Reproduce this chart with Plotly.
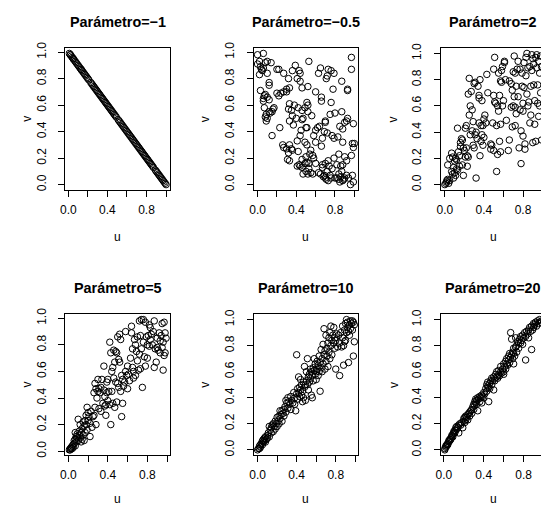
import plotly.graph_objects as go

# ---- simulated copula samples, one (u, v) pair of lists per parameter value ----
titles = ["Parámetro=−1", "Parámetro=−0.5", "Parámetro=2",
          "Parámetro=5", "Parámetro=10", "Parámetro=20"]

u1 = [0.01, 0.02, 0.02, 0.03, 0.04, 0.05, 0.05, 0.06, 0.07, 0.08, 0.09, 0.10, 0.11, 0.12,
      0.13, 0.13, 0.14, 0.15, 0.16, 0.17, 0.18, 0.19, 0.20, 0.21, 0.23, 0.24, 0.25, 0.26,
      0.27, 0.28, 0.29, 0.30, 0.31, 0.32, 0.33, 0.34, 0.35, 0.36, 0.37, 0.38, 0.39, 0.40,
      0.41, 0.42, 0.43, 0.44, 0.45, 0.46, 0.47, 0.48, 0.49, 0.51, 0.52, 0.53, 0.54, 0.55,
      0.56, 0.57, 0.58, 0.59, 0.60, 0.61, 0.62, 0.63, 0.64, 0.65, 0.66, 0.67, 0.68, 0.69,
      0.70, 0.71, 0.72, 0.73, 0.74, 0.75, 0.76, 0.77, 0.78, 0.79, 0.80, 0.81, 0.82, 0.83,
      0.84, 0.85, 0.86, 0.87, 0.89, 0.90, 0.91, 0.92, 0.93, 0.94, 0.95, 0.96, 0.97, 0.98,
      0.99, 1.00]
v1 = [0.99, 0.98, 0.98, 0.97, 0.96, 0.95, 0.95, 0.94, 0.93, 0.92, 0.91, 0.90, 0.89, 0.88,
      0.87, 0.87, 0.86, 0.85, 0.84, 0.83, 0.82, 0.81, 0.80, 0.79, 0.77, 0.76, 0.75, 0.74,
      0.73, 0.72, 0.71, 0.70, 0.69, 0.68, 0.67, 0.66, 0.65, 0.64, 0.63, 0.62, 0.61, 0.60,
      0.59, 0.58, 0.57, 0.56, 0.55, 0.54, 0.53, 0.52, 0.51, 0.49, 0.48, 0.47, 0.46, 0.45,
      0.44, 0.43, 0.42, 0.41, 0.40, 0.39, 0.38, 0.37, 0.36, 0.35, 0.34, 0.33, 0.32, 0.31,
      0.30, 0.29, 0.28, 0.27, 0.26, 0.25, 0.24, 0.23, 0.22, 0.21, 0.20, 0.19, 0.18, 0.17,
      0.16, 0.15, 0.14, 0.13, 0.11, 0.10, 0.09, 0.08, 0.07, 0.06, 0.05, 0.04, 0.03, 0.02,
      0.01, 0.00]

pts2 = [(0.0, 0.98), (0.06, 0.99), (0.02, 0.93), (0.0, 0.91), (0.03, 0.89), (0.04, 0.87),
        (0.06, 0.88), (0.05, 0.86), (0.02, 0.83), (0.1, 0.93), (0.1, 0.84), (0.14, 0.92),
        (0.08, 0.92), (0.03, 0.71), (0.12, 0.77), (0.12, 0.75), (0.07, 0.67), (0.06, 0.65),
        (0.08, 0.68), (0.1, 0.66), (0.06, 0.63), (0.12, 0.64), (0.07, 0.58), (0.09, 0.53),
        (0.1, 0.5), (0.08, 0.51), (0.09, 0.48), (0.13, 0.54), (0.15, 0.55), (0.16, 0.57),
        (0.17, 0.58), (0.12, 0.55), (0.15, 0.37), (0.2, 0.87), (0.22, 0.87), (0.2, 0.69),
        (0.22, 0.67), (0.24, 0.69), (0.23, 0.43), (0.27, 0.84), (0.27, 0.7), (0.3, 0.7),
        (0.3, 0.72), (0.33, 0.73), (0.32, 0.8), (0.36, 0.86), (0.39, 0.9), (0.43, 0.86),
        (0.44, 0.84), (0.41, 0.8), (0.44, 0.78), (0.46, 0.73), (0.53, 0.93), (0.52, 0.74),
        (0.38, 0.6), (0.33, 0.61), (0.32, 0.57), (0.35, 0.56), (0.36, 0.52), (0.33, 0.48),
        (0.37, 0.45), (0.4, 0.5), (0.42, 0.58), (0.46, 0.56), (0.49, 0.58), (0.51, 0.62),
        (0.52, 0.6), (0.52, 0.55), (0.47, 0.5), (0.46, 0.49), (0.45, 0.41), (0.5, 0.43),
        (0.51, 0.43), (0.56, 0.52), (0.6, 0.7), (0.63, 0.84), (0.65, 0.88), (0.66, 0.66),
        (0.66, 0.63), (0.7, 0.48), (0.7, 0.47), (0.71, 0.8), (0.72, 0.82), (0.73, 0.87),
        (0.76, 0.86), (0.78, 0.72), (0.79, 0.84), (0.76, 0.62), (0.75, 0.53), (0.8, 0.54),
        (0.87, 0.55), (0.87, 0.78), (0.93, 0.72), (0.93, 0.71), (0.97, 0.96), (0.97, 0.87),
        (0.99, 0.46), (0.93, 0.5), (0.92, 0.48), (0.9, 0.47), (0.85, 0.44), (0.88, 0.42),
        (0.6, 0.41), (0.62, 0.43), (0.64, 0.44), (0.58, 0.37), (0.6, 0.32), (0.66, 0.29),
        (0.67, 0.35), (0.69, 0.4), (0.72, 0.39), (0.77, 0.37), (0.79, 0.35), (0.83, 0.36),
        (0.88, 0.32), (0.98, 0.31), (1.0, 0.31), (0.99, 0.28), (0.97, 0.22), (0.9, 0.21),
        (0.92, 0.18), (0.88, 0.15), (0.26, 0.3), (0.27, 0.28), (0.3, 0.27), (0.33, 0.3),
        (0.35, 0.27), (0.36, 0.26), (0.32, 0.24), (0.31, 0.19), (0.33, 0.18), (0.42, 0.25),
        (0.41, 0.33), (0.44, 0.37), (0.49, 0.32), (0.51, 0.3), (0.43, 0.15), (0.44, 0.14),
        (0.46, 0.13), (0.41, 0.14), (0.46, 0.19), (0.49, 0.16), (0.5, 0.21), (0.51, 0.17),
        (0.53, 0.16), (0.54, 0.23), (0.55, 0.26), (0.57, 0.22), (0.58, 0.2), (0.6, 0.16),
        (0.5, 0.1), (0.52, 0.08), (0.53, 0.12), (0.55, 0.09), (0.57, 0.08), (0.63, 0.09),
        (0.65, 0.08), (0.67, 0.15), (0.67, 0.13), (0.68, 0.06), (0.7, 0.05), (0.7, 0.16),
        (0.72, 0.1), (0.73, 0.18), (0.74, 0.14), (0.75, 0.07), (0.76, 0.05), (0.73, 0.03),
        (0.77, 0.12), (0.79, 0.2), (0.8, 0.05), (0.82, 0.15), (0.84, 0.08), (0.84, 0.04),
        (0.85, 0.02), (0.86, 0.06), (0.87, 0.1), (0.88, 0.03), (0.89, 0.04), (0.9, 0.05),
        (0.92, 0.07), (0.94, 0.05), (0.96, 0.0), (0.98, 0.07), (0.99, 0.02), (0.69, 0.07),
        (0.71, 0.04), (0.84, 0.23), (0.86, 0.14), (0.82, 0.05), (0.47, 0.08)]

pts3 = [(0.0, 0.0), (0.01, 0.01), (0.02, 0.02), (0.03, 0.04), (0.02, 0.03), (0.04, 0.01),
        (0.05, 0.03), (0.03, 0.15), (0.05, 0.2), (0.07, 0.1), (0.08, 0.08), (0.07, 0.24),
        (0.08, 0.21), (0.09, 0.13), (0.09, 0.05), (0.1, 0.09), (0.1, 0.18), (0.11, 0.2),
        (0.11, 0.07), (0.12, 0.12), (0.12, 0.19), (0.13, 0.11), (0.13, 0.43), (0.14, 0.25),
        (0.15, 0.14), (0.15, 0.22), (0.16, 0.29), (0.16, 0.32), (0.17, 0.35), (0.18, 0.34),
        (0.18, 0.15), (0.19, 0.28), (0.19, 0.07), (0.2, 0.26), (0.21, 0.43), (0.21, 0.21),
        (0.22, 0.45), (0.22, 0.28), (0.23, 0.22), (0.23, 0.14), (0.24, 0.21), (0.24, 0.69),
        (0.25, 0.81), (0.25, 0.53), (0.26, 0.38), (0.26, 0.6), (0.27, 0.71), (0.28, 0.57),
        (0.28, 0.41), (0.29, 0.48), (0.29, 0.3), (0.3, 0.28), (0.3, 0.77), (0.31, 0.78),
        (0.31, 0.38), (0.32, 0.05), (0.32, 0.4), (0.33, 0.35), (0.34, 0.75), (0.35, 0.68),
        (0.35, 0.66), (0.35, 0.47), (0.36, 0.8), (0.36, 0.22), (0.37, 0.45), (0.37, 0.33),
        (0.38, 0.38), (0.38, 0.64), (0.39, 0.45), (0.39, 0.3), (0.4, 0.36), (0.4, 0.5),
        (0.41, 0.53), (0.42, 0.47), (0.43, 0.84), (0.44, 0.7), (0.47, 0.27), (0.47, 0.31),
        (0.48, 0.3), (0.49, 0.47), (0.5, 0.68), (0.5, 0.26), (0.5, 0.88), (0.51, 0.97),
        (0.51, 0.63), (0.52, 0.62), (0.53, 0.45), (0.53, 0.1), (0.54, 0.23), (0.54, 0.6),
        (0.55, 0.56), (0.55, 0.85), (0.56, 0.68), (0.56, 0.33), (0.57, 0.79), (0.57, 0.46),
        (0.57, 0.25), (0.58, 0.87), (0.58, 0.78), (0.59, 0.6), (0.59, 0.9), (0.6, 0.64),
        (0.61, 0.94), (0.61, 0.93), (0.62, 0.8), (0.63, 0.49), (0.65, 0.26), (0.66, 0.34),
        (0.66, 0.79), (0.68, 0.59), (0.68, 0.77), (0.69, 0.72), (0.69, 0.44), (0.7, 0.6),
        (0.7, 0.86), (0.71, 0.98), (0.71, 0.67), (0.72, 0.85), (0.72, 0.45), (0.72, 0.59),
        (0.73, 0.54), (0.73, 0.75), (0.74, 0.88), (0.75, 0.94), (0.75, 0.67), (0.76, 0.28),
        (0.77, 0.88), (0.77, 0.57), (0.78, 0.16), (0.78, 0.41), (0.79, 0.85), (0.79, 0.75),
        (0.8, 0.37), (0.8, 0.56), (0.8, 0.62), (0.81, 0.93), (0.81, 0.74), (0.82, 0.31),
        (0.82, 0.27), (0.83, 0.97), (0.83, 0.83), (0.84, 1.0), (0.84, 0.69), (0.85, 0.89),
        (0.85, 0.6), (0.86, 0.63), (0.87, 0.9), (0.87, 0.47), (0.88, 0.53), (0.88, 0.75),
        (0.89, 0.99), (0.89, 0.87), (0.9, 0.96), (0.9, 0.32), (0.91, 0.92), (0.91, 0.76),
        (0.92, 0.46), (0.92, 0.64), (0.93, 0.97), (0.93, 0.33), (0.94, 0.99), (0.94, 0.89),
        (0.95, 0.62), (0.95, 0.76), (0.96, 0.52), (0.96, 0.94), (0.97, 0.85), (0.97, 0.6),
        (0.98, 0.98), (0.98, 0.7), (0.99, 0.9), (0.99, 0.34)]

pts4 = [(0.01, 0.01), (0.02, 0.02), (0.02, 0.01), (0.03, 0.03), (0.03, 0.02), (0.04, 0.04),
        (0.04, 0.02), (0.05, 0.05), (0.05, 0.03), (0.06, 0.08), (0.06, 0.06), (0.07, 0.04),
        (0.07, 0.09), (0.07, 0.14), (0.08, 0.11), (0.08, 0.07), (0.09, 0.1), (0.09, 0.13),
        (0.1, 0.24), (0.1, 0.08), (0.11, 0.15), (0.11, 0.12), (0.12, 0.2), (0.12, 0.1),
        (0.13, 0.14), (0.13, 0.07), (0.14, 0.17), (0.14, 0.09), (0.15, 0.12), (0.15, 0.22),
        (0.16, 0.08), (0.16, 0.19), (0.17, 0.23), (0.17, 0.14), (0.18, 0.2), (0.18, 0.27),
        (0.19, 0.16), (0.19, 0.33), (0.2, 0.23), (0.2, 0.29), (0.21, 0.26), (0.22, 0.11),
        (0.22, 0.21), (0.23, 0.3), (0.24, 0.18), (0.25, 0.26), (0.26, 0.27), (0.26, 0.44),
        (0.27, 0.51), (0.27, 0.33), (0.28, 0.2), (0.28, 0.47), (0.29, 0.4), (0.3, 0.45),
        (0.3, 0.54), (0.31, 0.47), (0.31, 0.32), (0.32, 0.44), (0.33, 0.48), (0.33, 0.3),
        (0.34, 0.54), (0.35, 0.36), (0.36, 0.46), (0.36, 0.64), (0.37, 0.34), (0.37, 0.41),
        (0.38, 0.35), (0.38, 0.27), (0.39, 0.52), (0.39, 0.44), (0.4, 0.54), (0.4, 0.38),
        (0.41, 0.45), (0.42, 0.82), (0.42, 0.35), (0.43, 0.2), (0.43, 0.74), (0.44, 0.6),
        (0.44, 0.45), (0.45, 0.36), (0.45, 0.63), (0.46, 0.55), (0.46, 0.76), (0.47, 0.67),
        (0.47, 0.33), (0.48, 0.75), (0.48, 0.52), (0.49, 0.37), (0.49, 0.74), (0.5, 0.86),
        (0.5, 0.51), (0.51, 0.69), (0.51, 0.48), (0.52, 0.88), (0.52, 0.67), (0.53, 0.84),
        (0.53, 0.45), (0.54, 0.57), (0.54, 0.26), (0.55, 0.54), (0.55, 0.36), (0.56, 0.49),
        (0.57, 0.52), (0.58, 0.9), (0.58, 0.6), (0.59, 0.57), (0.6, 0.64), (0.6, 0.47),
        (0.61, 0.58), (0.62, 0.53), (0.63, 0.7), (0.64, 0.94), (0.64, 0.89), (0.65, 0.77),
        (0.65, 0.63), (0.66, 0.6), (0.66, 0.55), (0.67, 0.84), (0.68, 0.8), (0.68, 0.57),
        (0.69, 0.75), (0.7, 0.86), (0.7, 0.68), (0.71, 0.61), (0.72, 0.98), (0.72, 0.73),
        (0.73, 0.87), (0.73, 0.62), (0.74, 0.99), (0.74, 0.77), (0.75, 0.48), (0.76, 0.99),
        (0.76, 0.82), (0.77, 0.71), (0.78, 0.97), (0.78, 0.64), (0.79, 0.86), (0.8, 0.8),
        (0.8, 0.7), (0.81, 0.87), (0.82, 0.95), (0.82, 0.79), (0.83, 0.93), (0.83, 0.84),
        (0.84, 0.88), (0.85, 0.8), (0.86, 0.9), (0.87, 0.63), (0.87, 0.98), (0.88, 0.77),
        (0.89, 0.67), (0.9, 0.85), (0.91, 0.76), (0.92, 0.89), (0.93, 0.74), (0.94, 0.87),
        (0.95, 0.96), (0.95, 0.78), (0.96, 0.61), (0.96, 0.82), (0.97, 0.97), (0.97, 0.72),
        (0.98, 0.89), (0.98, 0.74), (0.99, 0.85), (0.93, 0.83), (0.9, 0.78)]

pts5 = [(0.0, 0.0), (0.01, 0.01), (0.02, 0.03), (0.02, 0.01), (0.03, 0.04), (0.03, 0.02),
        (0.04, 0.05), (0.05, 0.04), (0.05, 0.07), (0.06, 0.06), (0.06, 0.08), (0.07, 0.07),
        (0.07, 0.09), (0.08, 0.06), (0.08, 0.1), (0.09, 0.08), (0.1, 0.11), (0.1, 0.09),
        (0.11, 0.13), (0.12, 0.1), (0.12, 0.18), (0.13, 0.15), (0.14, 0.13), (0.14, 0.17),
        (0.15, 0.19), (0.16, 0.14), (0.16, 0.2), (0.17, 0.18), (0.18, 0.16), (0.18, 0.22),
        (0.19, 0.2), (0.2, 0.25), (0.2, 0.18), (0.21, 0.22), (0.22, 0.26), (0.22, 0.2),
        (0.23, 0.3), (0.23, 0.24), (0.24, 0.27), (0.25, 0.3), (0.25, 0.22), (0.26, 0.28),
        (0.27, 0.26), (0.27, 0.31), (0.28, 0.33), (0.29, 0.38), (0.29, 0.29), (0.3, 0.36),
        (0.31, 0.32), (0.31, 0.4), (0.32, 0.37), (0.33, 0.35), (0.34, 0.31), (0.34, 0.41),
        (0.35, 0.38), (0.36, 0.36), (0.37, 0.44), (0.38, 0.4), (0.38, 0.35), (0.39, 0.3),
        (0.4, 0.43), (0.4, 0.73), (0.41, 0.47), (0.41, 0.39), (0.42, 0.56), (0.42, 0.44),
        (0.43, 0.48), (0.43, 0.41), (0.44, 0.54), (0.44, 0.46), (0.45, 0.42), (0.45, 0.5),
        (0.46, 0.37), (0.46, 0.45), (0.47, 0.52), (0.47, 0.4), (0.48, 0.64), (0.48, 0.48),
        (0.49, 0.5), (0.49, 0.38), (0.5, 0.6), (0.5, 0.53), (0.51, 0.7), (0.51, 0.5),
        (0.52, 0.56), (0.52, 0.46), (0.53, 0.58), (0.53, 0.52), (0.54, 0.62), (0.54, 0.55),
        (0.55, 0.42), (0.55, 0.6), (0.56, 0.57), (0.56, 0.4), (0.57, 0.63), (0.57, 0.53),
        (0.58, 0.7), (0.58, 0.61), (0.59, 0.58), (0.59, 0.66), (0.6, 0.6), (0.6, 0.54),
        (0.61, 0.68), (0.61, 0.62), (0.62, 0.65), (0.62, 0.57), (0.63, 0.72), (0.63, 0.6),
        (0.64, 0.67), (0.64, 0.45), (0.65, 0.77), (0.65, 0.63), (0.66, 0.7), (0.66, 0.6),
        (0.67, 0.81), (0.67, 0.66), (0.68, 0.73), (0.68, 0.93), (0.69, 0.76), (0.69, 0.62),
        (0.7, 0.68), (0.7, 0.88), (0.71, 0.78), (0.71, 0.72), (0.72, 0.82), (0.72, 0.64),
        (0.73, 0.86), (0.73, 0.75), (0.74, 0.9), (0.74, 0.7), (0.75, 0.8), (0.75, 0.95),
        (0.76, 0.84), (0.76, 0.73), (0.77, 0.88), (0.78, 0.82), (0.78, 0.94), (0.79, 0.86),
        (0.79, 0.78), (0.8, 0.84), (0.81, 0.89), (0.82, 0.79), (0.83, 0.88), (0.84, 0.57),
        (0.84, 0.82), (0.85, 0.9), (0.86, 0.79), (0.87, 0.95), (0.87, 0.86), (0.88, 0.65),
        (0.88, 0.8), (0.89, 0.92), (0.89, 0.83), (0.9, 0.97), (0.9, 0.84), (0.91, 1.0),
        (0.91, 0.9), (0.92, 0.94), (0.92, 0.98), (0.93, 0.67), (0.93, 0.91), (0.94, 0.96),
        (0.94, 0.88), (0.95, 0.99), (0.95, 0.93), (0.96, 0.97), (0.97, 0.92), (0.97, 0.99),
        (0.98, 0.72), (0.98, 0.98), (0.99, 0.96), (0.99, 0.83), (0.8, 0.62)]

pts6 = [(0.01, 0.0), (0.01, 0.01), (0.02, 0.02), (0.02, 0.03), (0.03, 0.03), (0.03, 0.04),
        (0.04, 0.05), (0.04, 0.04), (0.05, 0.06), (0.05, 0.07), (0.06, 0.07), (0.06, 0.08),
        (0.07, 0.09), (0.07, 0.08), (0.08, 0.1), (0.08, 0.11), (0.09, 0.12), (0.09, 0.1),
        (0.1, 0.13), (0.1, 0.14), (0.11, 0.15), (0.11, 0.13), (0.12, 0.17), (0.12, 0.15),
        (0.13, 0.16), (0.13, 0.18), (0.14, 0.17), (0.15, 0.19), (0.15, 0.13), (0.16, 0.2),
        (0.17, 0.19), (0.18, 0.21), (0.19, 0.17), (0.2, 0.22), (0.2, 0.24), (0.21, 0.21),
        (0.21, 0.25), (0.22, 0.23), (0.22, 0.26), (0.23, 0.25), (0.24, 0.27), (0.24, 0.23),
        (0.25, 0.28), (0.26, 0.29), (0.26, 0.26), (0.27, 0.3), (0.28, 0.31), (0.28, 0.28),
        (0.29, 0.33), (0.3, 0.35), (0.3, 0.31), (0.31, 0.34), (0.31, 0.37), (0.32, 0.36),
        (0.32, 0.39), (0.33, 0.38), (0.33, 0.35), (0.34, 0.4), (0.34, 0.3), (0.35, 0.39),
        (0.36, 0.41), (0.36, 0.37), (0.37, 0.4), (0.38, 0.42), (0.39, 0.41), (0.4, 0.44),
        (0.4, 0.4), (0.41, 0.43), (0.42, 0.47), (0.43, 0.5), (0.43, 0.45), (0.44, 0.49),
        (0.44, 0.52), (0.45, 0.48), (0.45, 0.37), (0.46, 0.51), (0.46, 0.47), (0.47, 0.53),
        (0.48, 0.5), (0.48, 0.55), (0.49, 0.53), (0.5, 0.56), (0.5, 0.46), (0.51, 0.55),
        (0.51, 0.53), (0.52, 0.58), (0.53, 0.56), (0.53, 0.6), (0.54, 0.55), (0.55, 0.58),
        (0.55, 0.61), (0.56, 0.57), (0.57, 0.6), (0.57, 0.64), (0.58, 0.59), (0.59, 0.62),
        (0.6, 0.66), (0.6, 0.6), (0.61, 0.64), (0.62, 0.68), (0.62, 0.62), (0.63, 0.66),
        (0.63, 0.7), (0.64, 0.65), (0.65, 0.72), (0.65, 0.69), (0.66, 0.74), (0.66, 0.67),
        (0.67, 0.9), (0.67, 0.71), (0.68, 0.73), (0.68, 0.85), (0.69, 0.75), (0.69, 0.7),
        (0.7, 0.78), (0.7, 0.74), (0.71, 0.72), (0.72, 0.79), (0.72, 0.86), (0.73, 0.8),
        (0.73, 0.75), (0.74, 0.83), (0.75, 0.82), (0.75, 0.78), (0.76, 0.85), (0.77, 0.82),
        (0.77, 0.87), (0.78, 0.84), (0.79, 0.88), (0.79, 0.81), (0.8, 0.86), (0.81, 0.9),
        (0.82, 0.69), (0.82, 0.87), (0.83, 0.91), (0.84, 0.89), (0.85, 0.92), (0.85, 0.86),
        (0.86, 0.94), (0.87, 0.91), (0.88, 0.95), (0.88, 0.77), (0.89, 0.92), (0.9, 0.97),
        (0.9, 0.94), (0.91, 0.96), (0.92, 0.98), (0.93, 0.95), (0.94, 0.99), (0.95, 0.97),
        (0.96, 1.0), (0.97, 0.98), (0.98, 0.99), (0.6, 0.58), (0.7, 0.66), (0.38, 0.36)]

tick_vals = [0.0, 0.2, 0.4, 0.6, 0.8, 1.0]
x_tick_text = ["0.0", "", "0.4", "", "0.8", ""]
y_tick_text = ["0.0", "0.2", "0.4", "0.6", "0.8", "1.0"]

samples = [(u1, v1)] + [([p[0] for p in s], [p[1] for p in s])
                        for s in (pts2, pts3, pts4, pts5, pts6)]

# ---- page geometry (pixels) ----
W, H = 541, 512
BOX_W = 105.5
col_left = [61.0, 251.0, 440.0]
row_box = [(42.0, 186.5), (313.5, 457.0)]      # (top, bottom) of each plot box
title_y = [15.0, 287.0]
ulab_y = [235.0, 502.0]
vlab_x = [22.0, 202.0, 392.0]

FONT = "Liberation Sans, Arial, sans-serif"


def r_range(vals):
    lo, hi = min(vals), max(vals)
    pad = 0.04 * (hi - lo)
    return [lo - pad, hi + pad]


fig = go.Figure()
annotations = []
for i, (u, v) in enumerate(samples):
    r, c = divmod(i, 3)
    n = i + 1
    xname = "x" if n == 1 else f"x{n}"
    yname = "y" if n == 1 else f"y{n}"
    fig.add_trace(go.Scatter(
        x=u, y=v, xaxis=xname, yaxis=yname, mode="markers", showlegend=False,
        marker=dict(symbol="circle-open", size=6.5, color="black",
                    line=dict(color="black", width=1)),
        hoverinfo="skip"))

    left = col_left[c]
    right = min(left + BOX_W, W)
    xr = r_range(u)
    if right < left + BOX_W:
        # the rightmost column is cut by the page edge
        xr = [xr[0], xr[0] + (xr[1] - xr[0]) * (right - left) / BOX_W]
    top, bot = row_box[r]

    common = dict(showgrid=False, zeroline=False, showline=True, linecolor="black",
                  linewidth=1, ticks="outside", ticklen=6, tickwidth=1,
                  tickcolor="black", tickvals=tick_vals,
                  tickfont=dict(family=FONT, size=12, color="black"))
    fig.layout[("xaxis" if n == 1 else f"xaxis{n}")] = dict(
        common, domain=[left / W, right / W], range=xr, anchor=yname,
        mirror=True, ticktext=x_tick_text, ticklabelstandoff=3)
    fig.layout[("yaxis" if n == 1 else f"yaxis{n}")] = dict(
        common, domain=[1 - bot / H, 1 - top / H], range=r_range(v), anchor=xname,
        mirror=(c < 2), ticktext=y_tick_text, tickangle=-90, ticklabelstandoff=8)

    cx = (left + BOX_W / 2) / W
    annotations.append(dict(text=f"<b>{titles[i]}</b>", x=cx, y=1 - title_y[r] / H,
                            xref="paper", yref="paper", showarrow=False,
                            xanchor="center", yanchor="middle",
                            font=dict(family=FONT, size=14.4, color="black")))
    annotations.append(dict(text="u", x=cx, y=1 - ulab_y[r] / H, xref="paper",
                            yref="paper", showarrow=False, xanchor="center",
                            yanchor="middle",
                            font=dict(family=FONT, size=12, color="black")))
    annotations.append(dict(text="v", x=vlab_x[c] / W, y=1 - (top + bot) / 2 / H,
                            xref="paper", yref="paper", showarrow=False,
                            xanchor="center", yanchor="middle", textangle=-90,
                            font=dict(family=FONT, size=12, color="black")))

fig.update_layout(width=W, height=H, margin=dict(l=0, r=0, t=0, b=0),
                  plot_bgcolor="white", paper_bgcolor="white",
                  annotations=annotations)
fig.write_html("out.html")
